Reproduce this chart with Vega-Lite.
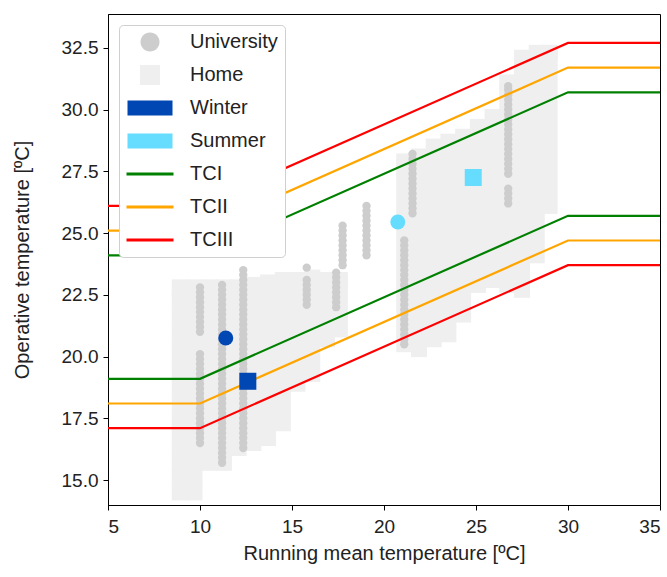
{
  "$schema": "https://vega.github.io/schema/vega-lite/v6.json",
  "width": 552,
  "height": 491,
  "autosize": {"type": "none"},
  "padding": {"left": 108, "top": 14, "right": 7, "bottom": 72},
  "background": "white",
  "config": {
    "font": "Liberation Sans",
    "view": {"stroke": "black", "strokeWidth": 1},
    "axis": {"grid": false, "domainColor": "black", "tickColor": "black", "tickSize": 5, "labelColor": "#222222", "titleColor": "#222222", "labelFontSize": 19, "titleFontSize": 20, "titleFontWeight": "normal", "labelFont": "Liberation Sans", "titleFont": "Liberation Sans"}
  },
  "datasets": {
    "home": [
      {"series":"Home","trm":8.9,"top":14.5},{"series":"Home","trm":8.9,"top":15.1},{"series":"Home","trm":8.9,"top":15.7},{"series":"Home","trm":8.9,"top":16.3},{"series":"Home","trm":8.9,"top":16.9},{"series":"Home","trm":8.9,"top":17.5},{"series":"Home","trm":8.9,"top":18.1},{"series":"Home","trm":8.9,"top":18.7},{"series":"Home","trm":8.9,"top":19.3},{"series":"Home","trm":8.9,"top":19.9},{"series":"Home","trm":8.9,"top":20.5},{"series":"Home","trm":8.9,"top":21.1},{"series":"Home","trm":8.9,"top":21.7},{"series":"Home","trm":8.9,"top":22.3},{"series":"Home","trm":8.9,"top":22.8},
      {"series":"Home","trm":9.7,"top":14.5},{"series":"Home","trm":9.7,"top":15.1},{"series":"Home","trm":9.7,"top":15.7},{"series":"Home","trm":9.7,"top":16.3},{"series":"Home","trm":9.7,"top":16.9},{"series":"Home","trm":9.7,"top":17.5},{"series":"Home","trm":9.7,"top":18.1},{"series":"Home","trm":9.7,"top":18.7},{"series":"Home","trm":9.7,"top":19.3},{"series":"Home","trm":9.7,"top":19.9},{"series":"Home","trm":9.7,"top":20.5},{"series":"Home","trm":9.7,"top":21.1},{"series":"Home","trm":9.7,"top":21.7},{"series":"Home","trm":9.7,"top":22.3},{"series":"Home","trm":9.7,"top":22.8},
      {"series":"Home","trm":10.5,"top":15.7},{"series":"Home","trm":10.5,"top":16.3},{"series":"Home","trm":10.5,"top":16.9},{"series":"Home","trm":10.5,"top":17.5},{"series":"Home","trm":10.5,"top":18.1},{"series":"Home","trm":10.5,"top":18.7},{"series":"Home","trm":10.5,"top":19.3},{"series":"Home","trm":10.5,"top":19.9},{"series":"Home","trm":10.5,"top":20.5},{"series":"Home","trm":10.5,"top":21.1},{"series":"Home","trm":10.5,"top":21.7},{"series":"Home","trm":10.5,"top":22.3},{"series":"Home","trm":10.5,"top":22.8},
      {"series":"Home","trm":11.3,"top":15.7},{"series":"Home","trm":11.3,"top":16.3},{"series":"Home","trm":11.3,"top":16.9},{"series":"Home","trm":11.3,"top":17.5},{"series":"Home","trm":11.3,"top":18.1},{"series":"Home","trm":11.3,"top":18.7},{"series":"Home","trm":11.3,"top":19.3},{"series":"Home","trm":11.3,"top":19.9},{"series":"Home","trm":11.3,"top":20.5},{"series":"Home","trm":11.3,"top":21.1},{"series":"Home","trm":11.3,"top":21.7},{"series":"Home","trm":11.3,"top":22.3},{"series":"Home","trm":11.3,"top":22.8},
      {"series":"Home","trm":12.1,"top":16.3},{"series":"Home","trm":12.1,"top":16.9},{"series":"Home","trm":12.1,"top":17.5},{"series":"Home","trm":12.1,"top":18.1},{"series":"Home","trm":12.1,"top":18.7},{"series":"Home","trm":12.1,"top":19.3},{"series":"Home","trm":12.1,"top":19.9},{"series":"Home","trm":12.1,"top":20.5},{"series":"Home","trm":12.1,"top":21.1},{"series":"Home","trm":12.1,"top":21.7},{"series":"Home","trm":12.1,"top":22.3},{"series":"Home","trm":12.1,"top":22.8},
      {"series":"Home","trm":12.9,"top":16.5},{"series":"Home","trm":12.9,"top":17.1},{"series":"Home","trm":12.9,"top":17.7},{"series":"Home","trm":12.9,"top":18.3},{"series":"Home","trm":12.9,"top":18.9},{"series":"Home","trm":12.9,"top":19.5},{"series":"Home","trm":12.9,"top":20.1},{"series":"Home","trm":12.9,"top":20.7},{"series":"Home","trm":12.9,"top":21.3},{"series":"Home","trm":12.9,"top":21.9},{"series":"Home","trm":12.9,"top":22.5},{"series":"Home","trm":12.9,"top":22.9},
      {"series":"Home","trm":13.7,"top":16.7},{"series":"Home","trm":13.7,"top":17.3},{"series":"Home","trm":13.7,"top":17.9},{"series":"Home","trm":13.7,"top":18.5},{"series":"Home","trm":13.7,"top":19.1},{"series":"Home","trm":13.7,"top":19.7},{"series":"Home","trm":13.7,"top":20.3},{"series":"Home","trm":13.7,"top":20.9},{"series":"Home","trm":13.7,"top":21.5},{"series":"Home","trm":13.7,"top":22.1},{"series":"Home","trm":13.7,"top":22.7},{"series":"Home","trm":13.7,"top":23.0},
      {"series":"Home","trm":14.5,"top":17.3},{"series":"Home","trm":14.5,"top":17.9},{"series":"Home","trm":14.5,"top":18.5},{"series":"Home","trm":14.5,"top":19.1},{"series":"Home","trm":14.5,"top":19.7},{"series":"Home","trm":14.5,"top":20.3},{"series":"Home","trm":14.5,"top":20.9},{"series":"Home","trm":14.5,"top":21.5},{"series":"Home","trm":14.5,"top":22.1},{"series":"Home","trm":14.5,"top":22.7},{"series":"Home","trm":14.5,"top":23.1},
      {"series":"Home","trm":15.3,"top":18.9},{"series":"Home","trm":15.3,"top":19.5},{"series":"Home","trm":15.3,"top":20.1},{"series":"Home","trm":15.3,"top":20.7},{"series":"Home","trm":15.3,"top":21.3},{"series":"Home","trm":15.3,"top":21.9},{"series":"Home","trm":15.3,"top":22.5},{"series":"Home","trm":15.3,"top":23.1},
      {"series":"Home","trm":16.1,"top":19.3},{"series":"Home","trm":16.1,"top":19.9},{"series":"Home","trm":16.1,"top":20.5},{"series":"Home","trm":16.1,"top":21.1},{"series":"Home","trm":16.1,"top":21.7},{"series":"Home","trm":16.1,"top":22.3},{"series":"Home","trm":16.1,"top":22.9},{"series":"Home","trm":16.1,"top":23.2},
      {"series":"Home","trm":16.9,"top":20.7},{"series":"Home","trm":16.9,"top":21.3},{"series":"Home","trm":16.9,"top":21.9},{"series":"Home","trm":16.9,"top":22.5},{"series":"Home","trm":16.9,"top":23.1},
      {"series":"Home","trm":17.6,"top":21.1},{"series":"Home","trm":17.6,"top":21.7},{"series":"Home","trm":17.6,"top":22.3},{"series":"Home","trm":17.6,"top":22.9},{"series":"Home","trm":17.6,"top":23.1},
      {"series":"Home","trm":21.1,"top":20.5},{"series":"Home","trm":21.1,"top":21.1},{"series":"Home","trm":21.1,"top":21.7},{"series":"Home","trm":21.1,"top":22.3},{"series":"Home","trm":21.1,"top":22.9},{"series":"Home","trm":21.1,"top":23.5},{"series":"Home","trm":21.1,"top":24.1},{"series":"Home","trm":21.1,"top":24.7},{"series":"Home","trm":21.1,"top":25.3},{"series":"Home","trm":21.1,"top":25.9},{"series":"Home","trm":21.1,"top":26.5},{"series":"Home","trm":21.1,"top":27.1},{"series":"Home","trm":21.1,"top":27.7},{"series":"Home","trm":21.1,"top":27.9},
      {"series":"Home","trm":21.9,"top":20.3},{"series":"Home","trm":21.9,"top":20.9},{"series":"Home","trm":21.9,"top":21.5},{"series":"Home","trm":21.9,"top":22.1},{"series":"Home","trm":21.9,"top":22.7},{"series":"Home","trm":21.9,"top":23.3},{"series":"Home","trm":21.9,"top":23.9},{"series":"Home","trm":21.9,"top":24.5},{"series":"Home","trm":21.9,"top":25.1},{"series":"Home","trm":21.9,"top":25.7},{"series":"Home","trm":21.9,"top":26.3},{"series":"Home","trm":21.9,"top":26.9},{"series":"Home","trm":21.9,"top":27.5},{"series":"Home","trm":21.9,"top":28.1},
      {"series":"Home","trm":22.7,"top":20.7},{"series":"Home","trm":22.7,"top":21.3},{"series":"Home","trm":22.7,"top":21.9},{"series":"Home","trm":22.7,"top":22.5},{"series":"Home","trm":22.7,"top":23.1},{"series":"Home","trm":22.7,"top":23.7},{"series":"Home","trm":22.7,"top":24.3},{"series":"Home","trm":22.7,"top":24.9},{"series":"Home","trm":22.7,"top":25.5},{"series":"Home","trm":22.7,"top":26.1},{"series":"Home","trm":22.7,"top":26.7},{"series":"Home","trm":22.7,"top":27.3},{"series":"Home","trm":22.7,"top":27.9},{"series":"Home","trm":22.7,"top":28.5},
      {"series":"Home","trm":23.5,"top":20.9},{"series":"Home","trm":23.5,"top":21.5},{"series":"Home","trm":23.5,"top":22.1},{"series":"Home","trm":23.5,"top":22.7},{"series":"Home","trm":23.5,"top":23.3},{"series":"Home","trm":23.5,"top":23.9},{"series":"Home","trm":23.5,"top":24.5},{"series":"Home","trm":23.5,"top":25.1},{"series":"Home","trm":23.5,"top":25.7},{"series":"Home","trm":23.5,"top":26.3},{"series":"Home","trm":23.5,"top":26.9},{"series":"Home","trm":23.5,"top":27.5},{"series":"Home","trm":23.5,"top":28.1},{"series":"Home","trm":23.5,"top":28.7},
      {"series":"Home","trm":24.3,"top":21.7},{"series":"Home","trm":24.3,"top":22.3},{"series":"Home","trm":24.3,"top":22.9},{"series":"Home","trm":24.3,"top":23.5},{"series":"Home","trm":24.3,"top":24.1},{"series":"Home","trm":24.3,"top":24.7},{"series":"Home","trm":24.3,"top":25.3},{"series":"Home","trm":24.3,"top":25.9},{"series":"Home","trm":24.3,"top":26.5},{"series":"Home","trm":24.3,"top":27.1},{"series":"Home","trm":24.3,"top":27.7},{"series":"Home","trm":24.3,"top":28.3},{"series":"Home","trm":24.3,"top":28.9},
      {"series":"Home","trm":25.1,"top":22.9},{"series":"Home","trm":25.1,"top":23.5},{"series":"Home","trm":25.1,"top":24.1},{"series":"Home","trm":25.1,"top":24.7},{"series":"Home","trm":25.1,"top":25.3},{"series":"Home","trm":25.1,"top":25.9},{"series":"Home","trm":25.1,"top":26.5},{"series":"Home","trm":25.1,"top":27.1},{"series":"Home","trm":25.1,"top":27.7},{"series":"Home","trm":25.1,"top":28.3},{"series":"Home","trm":25.1,"top":28.9},{"series":"Home","trm":25.1,"top":29.3},
      {"series":"Home","trm":25.9,"top":23.1},{"series":"Home","trm":25.9,"top":23.7},{"series":"Home","trm":25.9,"top":24.3},{"series":"Home","trm":25.9,"top":24.9},{"series":"Home","trm":25.9,"top":25.5},{"series":"Home","trm":25.9,"top":26.1},{"series":"Home","trm":25.9,"top":26.7},{"series":"Home","trm":25.9,"top":27.3},{"series":"Home","trm":25.9,"top":27.9},{"series":"Home","trm":25.9,"top":28.5},{"series":"Home","trm":25.9,"top":29.1},{"series":"Home","trm":25.9,"top":29.7},
      {"series":"Home","trm":26.7,"top":22.9},{"series":"Home","trm":26.7,"top":23.5},{"series":"Home","trm":26.7,"top":24.1},{"series":"Home","trm":26.7,"top":24.7},{"series":"Home","trm":26.7,"top":25.3},{"series":"Home","trm":26.7,"top":25.9},{"series":"Home","trm":26.7,"top":26.5},{"series":"Home","trm":26.7,"top":27.1},{"series":"Home","trm":26.7,"top":27.7},{"series":"Home","trm":26.7,"top":28.3},{"series":"Home","trm":26.7,"top":28.9},{"series":"Home","trm":26.7,"top":29.5},{"series":"Home","trm":26.7,"top":30.1},{"series":"Home","trm":26.7,"top":30.7},{"series":"Home","trm":26.7,"top":31.1},
      {"series":"Home","trm":27.5,"top":22.7},{"series":"Home","trm":27.5,"top":23.3},{"series":"Home","trm":27.5,"top":23.9},{"series":"Home","trm":27.5,"top":24.5},{"series":"Home","trm":27.5,"top":25.1},{"series":"Home","trm":27.5,"top":25.7},{"series":"Home","trm":27.5,"top":26.3},{"series":"Home","trm":27.5,"top":26.9},{"series":"Home","trm":27.5,"top":27.5},{"series":"Home","trm":27.5,"top":28.1},{"series":"Home","trm":27.5,"top":28.7},{"series":"Home","trm":27.5,"top":29.3},{"series":"Home","trm":27.5,"top":29.9},{"series":"Home","trm":27.5,"top":30.5},{"series":"Home","trm":27.5,"top":31.1},{"series":"Home","trm":27.5,"top":31.7},{"series":"Home","trm":27.5,"top":32.1},
      {"series":"Home","trm":28.3,"top":24.1},{"series":"Home","trm":28.3,"top":24.7},{"series":"Home","trm":28.3,"top":25.3},{"series":"Home","trm":28.3,"top":25.9},{"series":"Home","trm":28.3,"top":26.5},{"series":"Home","trm":28.3,"top":27.1},{"series":"Home","trm":28.3,"top":27.7},{"series":"Home","trm":28.3,"top":28.3},{"series":"Home","trm":28.3,"top":28.9},{"series":"Home","trm":28.3,"top":29.5},{"series":"Home","trm":28.3,"top":30.1},{"series":"Home","trm":28.3,"top":30.7},{"series":"Home","trm":28.3,"top":31.3},{"series":"Home","trm":28.3,"top":31.9},{"series":"Home","trm":28.3,"top":32.3},
      {"series":"Home","trm":29.0,"top":26.1},{"series":"Home","trm":29.0,"top":26.7},{"series":"Home","trm":29.0,"top":27.3},{"series":"Home","trm":29.0,"top":27.9},{"series":"Home","trm":29.0,"top":28.5},{"series":"Home","trm":29.0,"top":29.1},{"series":"Home","trm":29.0,"top":29.7},{"series":"Home","trm":29.0,"top":30.3},{"series":"Home","trm":29.0,"top":30.9},{"series":"Home","trm":29.0,"top":31.5},{"series":"Home","trm":29.0,"top":32.1},{"series":"Home","trm":29.0,"top":32.3}
    ],
    "university": [
      {"series":"University","trm":10.0,"top":21.0},{"series":"University","trm":10.0,"top":21.2},{"series":"University","trm":10.0,"top":21.4},{"series":"University","trm":10.0,"top":21.6},{"series":"University","trm":10.0,"top":21.8},{"series":"University","trm":10.0,"top":22.0},{"series":"University","trm":10.0,"top":22.2},{"series":"University","trm":10.0,"top":22.4},{"series":"University","trm":10.0,"top":22.6},{"series":"University","trm":10.0,"top":22.8},
      {"series":"University","trm":10.0,"top":16.5},{"series":"University","trm":10.0,"top":16.7},{"series":"University","trm":10.0,"top":16.9},{"series":"University","trm":10.0,"top":17.1},{"series":"University","trm":10.0,"top":17.3},{"series":"University","trm":10.0,"top":17.5},{"series":"University","trm":10.0,"top":17.7},{"series":"University","trm":10.0,"top":17.9},{"series":"University","trm":10.0,"top":18.1},{"series":"University","trm":10.0,"top":18.3},{"series":"University","trm":10.0,"top":18.5},{"series":"University","trm":10.0,"top":18.7},{"series":"University","trm":10.0,"top":18.9},{"series":"University","trm":10.0,"top":19.1},{"series":"University","trm":10.0,"top":19.3},{"series":"University","trm":10.0,"top":19.5},{"series":"University","trm":10.0,"top":19.7},{"series":"University","trm":10.0,"top":19.9},{"series":"University","trm":10.0,"top":20.1},
      {"series":"University","trm":11.2,"top":15.7},{"series":"University","trm":11.2,"top":15.9},{"series":"University","trm":11.2,"top":16.1},{"series":"University","trm":11.2,"top":16.3},{"series":"University","trm":11.2,"top":16.5},{"series":"University","trm":11.2,"top":16.7},{"series":"University","trm":11.2,"top":16.9},{"series":"University","trm":11.2,"top":17.1},{"series":"University","trm":11.2,"top":17.3},{"series":"University","trm":11.2,"top":17.5},{"series":"University","trm":11.2,"top":17.7},{"series":"University","trm":11.2,"top":17.9},{"series":"University","trm":11.2,"top":18.1},{"series":"University","trm":11.2,"top":18.3},{"series":"University","trm":11.2,"top":18.5},{"series":"University","trm":11.2,"top":18.7},{"series":"University","trm":11.2,"top":18.9},{"series":"University","trm":11.2,"top":19.1},{"series":"University","trm":11.2,"top":19.3},{"series":"University","trm":11.2,"top":19.5},{"series":"University","trm":11.2,"top":19.7},{"series":"University","trm":11.2,"top":19.9},{"series":"University","trm":11.2,"top":20.1},{"series":"University","trm":11.2,"top":20.3},{"series":"University","trm":11.2,"top":20.5},{"series":"University","trm":11.2,"top":20.7},{"series":"University","trm":11.2,"top":20.9},{"series":"University","trm":11.2,"top":21.1},{"series":"University","trm":11.2,"top":21.3},{"series":"University","trm":11.2,"top":21.5},{"series":"University","trm":11.2,"top":21.7},{"series":"University","trm":11.2,"top":21.9},{"series":"University","trm":11.2,"top":22.1},{"series":"University","trm":11.2,"top":22.3},{"series":"University","trm":11.2,"top":22.5},{"series":"University","trm":11.2,"top":22.7},{"series":"University","trm":11.2,"top":22.9},
      {"series":"University","trm":12.35,"top":16.3},{"series":"University","trm":12.35,"top":16.5},{"series":"University","trm":12.35,"top":16.7},{"series":"University","trm":12.35,"top":16.9},{"series":"University","trm":12.35,"top":17.1},{"series":"University","trm":12.35,"top":17.3},{"series":"University","trm":12.35,"top":17.5},{"series":"University","trm":12.35,"top":17.7},{"series":"University","trm":12.35,"top":17.9},{"series":"University","trm":12.35,"top":18.1},{"series":"University","trm":12.35,"top":18.3},{"series":"University","trm":12.35,"top":18.5},{"series":"University","trm":12.35,"top":18.7},{"series":"University","trm":12.35,"top":18.9},{"series":"University","trm":12.35,"top":19.1},{"series":"University","trm":12.35,"top":19.3},{"series":"University","trm":12.35,"top":19.5},{"series":"University","trm":12.35,"top":19.7},{"series":"University","trm":12.35,"top":19.9},{"series":"University","trm":12.35,"top":20.1},{"series":"University","trm":12.35,"top":20.3},{"series":"University","trm":12.35,"top":20.5},{"series":"University","trm":12.35,"top":20.7},{"series":"University","trm":12.35,"top":20.9},{"series":"University","trm":12.35,"top":21.1},{"series":"University","trm":12.35,"top":21.3},{"series":"University","trm":12.35,"top":21.5},{"series":"University","trm":12.35,"top":21.7},{"series":"University","trm":12.35,"top":21.9},{"series":"University","trm":12.35,"top":22.1},{"series":"University","trm":12.35,"top":22.3},{"series":"University","trm":12.35,"top":22.5},{"series":"University","trm":12.35,"top":22.7},{"series":"University","trm":12.35,"top":22.9},{"series":"University","trm":12.35,"top":23.1},{"series":"University","trm":12.35,"top":23.3},{"series":"University","trm":12.35,"top":23.5},
      {"series":"University","trm":15.8,"top":22.1},{"series":"University","trm":15.8,"top":22.3},{"series":"University","trm":15.8,"top":22.5},{"series":"University","trm":15.8,"top":22.7},{"series":"University","trm":15.8,"top":22.9},{"series":"University","trm":15.8,"top":23.1},{"series":"University","trm":15.8,"top":23.6},
      {"series":"University","trm":17.4,"top":22.0},{"series":"University","trm":17.4,"top":22.2},{"series":"University","trm":17.4,"top":22.4},{"series":"University","trm":17.4,"top":22.6},{"series":"University","trm":17.4,"top":22.8},{"series":"University","trm":17.4,"top":23.0},{"series":"University","trm":17.4,"top":23.2},{"series":"University","trm":17.4,"top":23.4},
      {"series":"University","trm":17.75,"top":23.7},{"series":"University","trm":17.75,"top":23.9},{"series":"University","trm":17.75,"top":24.1},{"series":"University","trm":17.75,"top":24.3},{"series":"University","trm":17.75,"top":24.5},{"series":"University","trm":17.75,"top":24.7},{"series":"University","trm":17.75,"top":24.9},{"series":"University","trm":17.75,"top":25.1},{"series":"University","trm":17.75,"top":25.3},
      {"series":"University","trm":19.05,"top":24.1},{"series":"University","trm":19.05,"top":24.3},{"series":"University","trm":19.05,"top":24.5},{"series":"University","trm":19.05,"top":24.7},{"series":"University","trm":19.05,"top":24.9},{"series":"University","trm":19.05,"top":25.1},{"series":"University","trm":19.05,"top":25.3},{"series":"University","trm":19.05,"top":25.5},{"series":"University","trm":19.05,"top":25.7},{"series":"University","trm":19.05,"top":25.9},{"series":"University","trm":19.05,"top":26.1},
      {"series":"University","trm":21.1,"top":20.5},{"series":"University","trm":21.1,"top":20.7},{"series":"University","trm":21.1,"top":20.9},{"series":"University","trm":21.1,"top":21.1},{"series":"University","trm":21.1,"top":21.3},{"series":"University","trm":21.1,"top":21.5},{"series":"University","trm":21.1,"top":21.7},{"series":"University","trm":21.1,"top":21.9},{"series":"University","trm":21.1,"top":22.1},{"series":"University","trm":21.1,"top":22.3},{"series":"University","trm":21.1,"top":22.5},{"series":"University","trm":21.1,"top":22.7},{"series":"University","trm":21.1,"top":22.9},{"series":"University","trm":21.1,"top":23.1},{"series":"University","trm":21.1,"top":23.3},{"series":"University","trm":21.1,"top":23.5},{"series":"University","trm":21.1,"top":23.7},{"series":"University","trm":21.1,"top":23.9},{"series":"University","trm":21.1,"top":24.1},{"series":"University","trm":21.1,"top":24.3},{"series":"University","trm":21.1,"top":24.5},{"series":"University","trm":21.1,"top":24.7},
      {"series":"University","trm":21.55,"top":25.8},{"series":"University","trm":21.55,"top":26.0},{"series":"University","trm":21.55,"top":26.2},{"series":"University","trm":21.55,"top":26.4},{"series":"University","trm":21.55,"top":26.6},{"series":"University","trm":21.55,"top":26.8},{"series":"University","trm":21.55,"top":27.0},{"series":"University","trm":21.55,"top":27.2},{"series":"University","trm":21.55,"top":27.4},{"series":"University","trm":21.55,"top":27.6},{"series":"University","trm":21.55,"top":27.8},{"series":"University","trm":21.55,"top":28.0},{"series":"University","trm":21.55,"top":28.2},
      {"series":"University","trm":26.75,"top":27.4},{"series":"University","trm":26.75,"top":27.6},{"series":"University","trm":26.75,"top":27.8},{"series":"University","trm":26.75,"top":28.0},{"series":"University","trm":26.75,"top":28.2},{"series":"University","trm":26.75,"top":28.4},{"series":"University","trm":26.75,"top":28.6},{"series":"University","trm":26.75,"top":28.8},{"series":"University","trm":26.75,"top":29.0},{"series":"University","trm":26.75,"top":29.2},{"series":"University","trm":26.75,"top":29.4},{"series":"University","trm":26.75,"top":29.6},{"series":"University","trm":26.75,"top":29.8},{"series":"University","trm":26.75,"top":30.0},{"series":"University","trm":26.75,"top":30.2},{"series":"University","trm":26.75,"top":30.4},{"series":"University","trm":26.75,"top":30.6},{"series":"University","trm":26.75,"top":30.8},{"series":"University","trm":26.75,"top":30.95},
      {"series":"University","trm":26.75,"top":26.2},{"series":"University","trm":26.75,"top":26.4},{"series":"University","trm":26.75,"top":26.6},{"series":"University","trm":26.75,"top":26.8}
    ],
    "means": [
      {"series":"Winter","location":"University","trm":11.4,"top":20.75},
      {"series":"Winter","location":"Home","trm":12.6,"top":19.0},
      {"series":"Summer","location":"University","trm":20.75,"top":25.45},
      {"series":"Summer","location":"Home","trm":24.85,"top":27.25}
    ],
    "comfort": [
      {"series":"TCI","bound":"upper","trm":5,"top":24.1},{"series":"TCI","bound":"upper","trm":10,"top":24.1},{"series":"TCI","bound":"upper","trm":30,"top":30.7},{"series":"TCI","bound":"upper","trm":35,"top":30.7},
      {"series":"TCI","bound":"lower","trm":5,"top":19.1},{"series":"TCI","bound":"lower","trm":10,"top":19.1},{"series":"TCI","bound":"lower","trm":30,"top":25.7},{"series":"TCI","bound":"lower","trm":35,"top":25.7},
      {"series":"TCII","bound":"upper","trm":5,"top":25.1},{"series":"TCII","bound":"upper","trm":10,"top":25.1},{"series":"TCII","bound":"upper","trm":30,"top":31.7},{"series":"TCII","bound":"upper","trm":35,"top":31.7},
      {"series":"TCII","bound":"lower","trm":5,"top":18.1},{"series":"TCII","bound":"lower","trm":10,"top":18.1},{"series":"TCII","bound":"lower","trm":30,"top":24.7},{"series":"TCII","bound":"lower","trm":35,"top":24.7},
      {"series":"TCIII","bound":"upper","trm":5,"top":26.1},{"series":"TCIII","bound":"upper","trm":10,"top":26.1},{"series":"TCIII","bound":"upper","trm":30,"top":32.7},{"series":"TCIII","bound":"upper","trm":35,"top":32.7},
      {"series":"TCIII","bound":"lower","trm":5,"top":17.1},{"series":"TCIII","bound":"lower","trm":10,"top":17.1},{"series":"TCIII","bound":"lower","trm":30,"top":23.7},{"series":"TCIII","bound":"lower","trm":35,"top":23.7}
    ]
  },
  "encoding": {
    "x": {"field": "trm", "type": "quantitative", "scale": {"domain": [5, 35], "nice": false, "zero": false}, "axis": {"values": [5, 10, 15, 20, 25, 30, 35], "title": "Running mean temperature [ºC]", "labelPadding": 7, "titlePadding": 7}},
    "y": {"field": "top", "type": "quantitative", "scale": {"domain": [13.99, 33.87], "nice": false, "zero": false}, "axis": {"values": [15, 17.5, 20, 22.5, 25, 27.5, 30, 32.5], "format": ".1f", "title": "Operative temperature [ºC]", "labelPadding": 5, "titlePadding": 29}},
    "color": {
      "field": "series", "type": "nominal",
      "scale": {"domain": ["University", "Home", "Winter", "Summer", "TCI", "TCII", "TCIII"], "range": ["#cdcdcd", "#efefef", "#0047b3", "#66dcff", "#008000", "#ffa500", "#ff0000"]},
      "legend": {
        "title": null, "orient": "top-left", "offset": 11, "padding": 7,
        "fillColor": "white", "strokeColor": "#cfcfcf", "cornerRadius": 4,
        "labelFont": "Liberation Sans", "labelFontSize": 20, "labelColor": "#222222",
        "symbolSize": 400, "labelOffset": 30, "rowPadding": 13, "symbolOffset": 14,
        "encode": {"symbols": {"update": {
          "shape": {"signal": "datum.value === 'University' ? 'M-0.95,0A0.95,0.95 0 1,0 0.95,0A0.95,0.95 0 1,0 -0.95,0Z' : datum.value === 'Home' ? 'M-1,-1H1V1H-1Z' : (datum.value === 'Winter' || datum.value === 'Summer') ? 'M-2.25,-0.75H2.25V0.75H-2.25Z' : 'M-2.35,0H2.35'"},
          "fill": {"scale": "color", "field": "value"},
          "stroke": {"scale": "color", "field": "value"},
          "strokeWidth": {"signal": "indexof(['TCI','TCII','TCIII'], datum.value) >= 0 ? 3 : 0"},
          "opacity": {"value": 1}
        }}}
      }
    }
  },
  "layer": [
    {"data": {"name": "home"}, "mark": {"type": "point", "shape": "square", "filled": true, "size": 256, "opacity": 1, "strokeWidth": 0}},
    {"data": {"name": "university"}, "mark": {"type": "point", "shape": "circle", "filled": true, "size": 70, "opacity": 1, "strokeWidth": 0}},
    {"data": {"name": "comfort"}, "mark": {"type": "line", "strokeWidth": 2.2, "clip": true}, "encoding": {"detail": {"field": "bound"}}},
    {"data": {"name": "means"}, "transform": [{"filter": "datum.location === 'University'"}], "mark": {"type": "point", "shape": "circle", "filled": true, "size": 225, "opacity": 1, "strokeWidth": 0}},
    {"data": {"name": "means"}, "transform": [{"filter": "datum.location === 'Home'"}], "mark": {"type": "point", "shape": "square", "filled": true, "size": 289, "opacity": 1, "strokeWidth": 0}}
  ]
}
